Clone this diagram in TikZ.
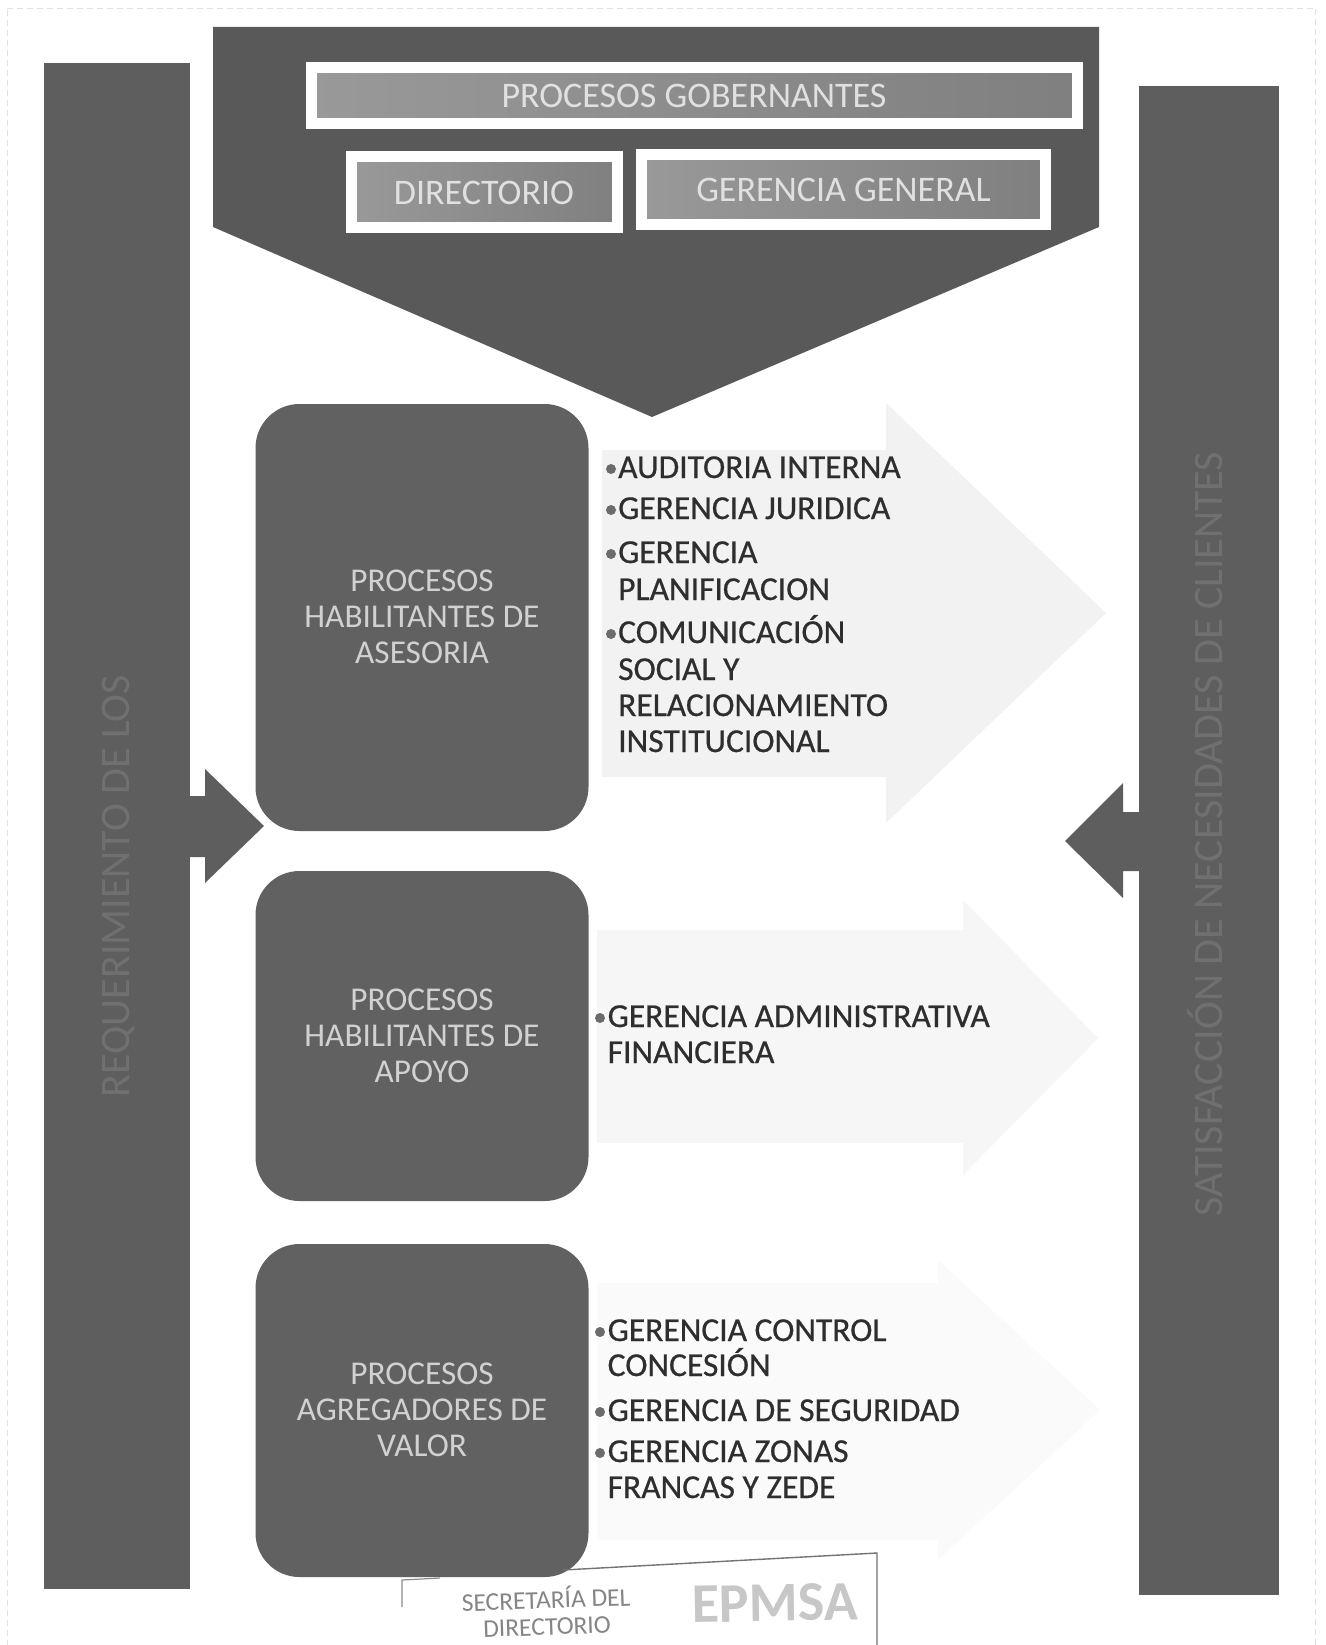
\documentclass[tikz,border=0pt]{standalone}
\usepackage{fontspec}
\setmainfont{Carlito}
\newfontfamily\listfont[FakeBold=0.6]{Carlito}
\definecolor{bargray}{gray}{0.37}
\definecolor{pentgray}{gray}{0.35}
\definecolor{boxgray}{gray}{0.38}
\definecolor{ghost}{gray}{0.95}
\definecolor{ghostb}{gray}{0.965}
\definecolor{ghostc}{gray}{0.982}
\tikzset{
  x=1pt,y=-1pt,
  framed/.style={draw=white,line width=11pt,inner sep=0pt,shade,left color=black!40,middle color=black!34,right color=black!50,
    text=white!88!black,font=\fontsize{36}{40}\selectfont},
  procbox/.style={fill=boxgray,rounded corners=44pt,inner sep=0pt,minimum width=333pt,align=center,
    text=white!82!black,font=\fontsize{33.3}{36}\selectfont},
  listline/.style={anchor=base west,inner sep=0pt,text=black!82,font=\listfont\fontsize{33.5}{36}\selectfont},
  dot/.style={circle,fill=black!58,inner sep=0pt,minimum size=10pt},
  bartext/.style={rotate=90,inner sep=0pt,text=black!56,font=\fontsize{42}{46}\selectfont},
  stamp/.style={inner sep=0pt,text=black!48,rotate=2,font=\fontsize{25.5}{28}\selectfont},
  edge/.style={draw=black!12,line width=1pt,dash pattern=on 6pt off 4pt},
}
\begin{document}
\begin{tikzpicture}
\useasboundingbox (0,0) rectangle (1325,1645);
\fill[white] (0,0) rectangle (1325,1645);
% page edges of the scan
\draw[edge] (7,10) -- (7,1645);
\draw[edge] (7,9) -- (1315,9);
\draw[edge] (1315,9) -- (1315,1645);
% faint background block arrows
\fill[ghost] (602,450) -- (886,450) -- (886,403) -- (1106,613) -- (886,823) -- (886,777) -- (602,777) -- cycle;
\fill[ghostb] (597,930) -- (963,930) -- (963,900) -- (1098,1038) -- (963,1175) -- (963,1143) -- (597,1143) -- cycle;
\fill[ghostc] (597,1283) -- (938,1283) -- (938,1260) -- (1100,1410) -- (938,1560) -- (938,1540) -- (597,1540) -- cycle;
% side bars with their arrows
\fill[bargray] (44,63) rectangle (190,1589);
\fill[bargray] (1139,86) rectangle (1279,1595);
\fill[bargray] (190,796) -- (205,796) -- (205,769) -- (264,826) -- (205,883) -- (205,857) -- (190,857) -- cycle;
\fill[bargray] (1139,812) -- (1123,812) -- (1123,783) -- (1065,841) -- (1123,898) -- (1123,871) -- (1139,871) -- cycle;
\node[bartext] (lefttext) at (119,886) {REQUERIMIENTO DE LOS};
\node[bartext] (righttext) at (1205,834) {SATISFACCIÓN DE NECESIDADES DE CLIENTES};
% top pentagon
\fill[pentgray] (213,27) -- (1099,27) -- (1099,227) -- (652,417) -- (213,227) -- cycle;
\node[framed,minimum width=766pt,minimum height=56pt] (gob) at (694,95.5) {PROCESOS GOBERNANTES};
\node[framed,minimum width=266pt,minimum height=71pt] (dir) at (484,192.5) {DIRECTORIO};
\node[framed,minimum width=404pt,minimum height=70pt] (ger) at (843.5,190) {GERENCIA GENERAL};
% process boxes
\node[procbox,minimum height=427pt] (ases) at (422,617.5) {\raisebox{2pt}{PROCESOS}\\\raisebox{2pt}{HABILITANTES DE}\\\raisebox{2pt}{ASESORIA}};
\node[procbox,minimum height=330pt] (apoyo) at (422,1036) {PROCESOS\\HABILITANTES DE\\APOYO};
\node[procbox,minimum height=333pt] (valor) at (422,1410.5) {\raisebox{2pt}{PROCESOS}\\\raisebox{2pt}{AGREGADORES DE}\\\raisebox{2pt}{VALOR}};
% list 1
\node[dot] (d1) at (611,469) {};
\node[dot] (d2) at (611,510) {};
\node[dot] (d3) at (611,554) {};
\node[dot] (d4) at (611,634) {};
\node[listline] (a1) at (618,478) {AUDITORIA INTERNA};
\node[listline] (a2) at (618,519) {GERENCIA JURIDICA};
\node[listline] (a3) at (618,563) {GERENCIA};
\node[listline] (a4) at (618,600) {PLANIFICACION};
\node[listline] (a5) at (618,643) {COMUNICACIÓN};
\node[listline] (a6) at (618,680) {SOCIAL Y};
\node[listline] (a7) at (618,716) {RELACIONAMIENTO};
\node[listline] (a8) at (618,752) {INSTITUCIONAL};
% list 2
\node[dot] (d5) at (600,1018) {};
\node[listline] (b1) at (607.5,1027) {GERENCIA ADMINISTRATIVA};
\node[listline] (b2) at (607.5,1063) {FINANCIERA};
% list 3
\node[dot] (d6) at (600,1332) {};
\node[dot] (d7) at (600,1412) {};
\node[dot] (d8) at (600,1453) {};
\node[listline] (c1) at (607.5,1341) {GERENCIA CONTROL};
\node[listline] (c2) at (607.5,1376) {CONCESIÓN};
\node[listline] (c3) at (607.5,1421) {GERENCIA DE SEGURIDAD};
\node[listline] (c4) at (607.5,1462) {GERENCIA ZONAS};
\node[listline] (c5) at (607.5,1498) {FRANCAS Y ZEDE};
% stamp
\draw[black!45,line width=1.2pt] (402,1607) -- (402,1580) -- (440,1578);
\draw[black!55,line width=1.4pt] (563,1570) -- (877,1553) -- (877,1645);
\node[stamp] (s1) at (546,1598) {SECRETARÍA DEL};
\node[stamp] (s2) at (547,1627) {DIRECTORIO};
\node[inner sep=0pt,text=black!22,font=\fontsize{56}{60}\selectfont\bfseries,rotate=1] (s3) at (775,1603) {EPMSA};
\end{tikzpicture}
\end{document}
